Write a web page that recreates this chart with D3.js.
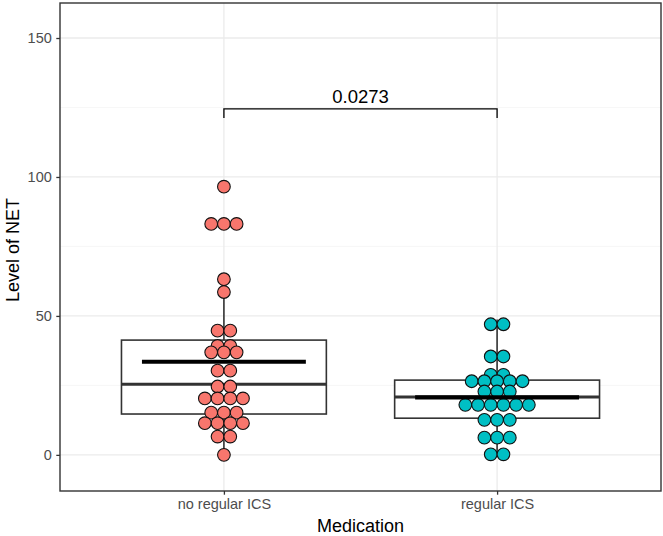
<!DOCTYPE html>
<html>
<head>
<meta charset="utf-8">
<script src="https://cdn.jsdelivr.net/npm/d3@7"></script>
<style>
  html, body { margin: 0; padding: 0; background: #fff; }
  svg { display: block; font-family: "Liberation Sans", Arial, sans-serif; }
</style>
</head>
<body>
<svg id="chart" width="663" height="536"></svg>
<script>
// ---- data ----
const categories = ["no regular ICS", "regular ICS"];
const colors = ["#F8766D", "#00BFC4"];
// individual observations (dot-plot bin centres), one entry per dot
const noRegularICS = [96.5, 83.1, 83.1, 83.1, 63.2, 58.6, 44.7, 44.7, 39.2, 39.2,
  36.9, 36.9, 36.9, 30.3, 30.3, 24.6, 24.6, 20.3, 20.3, 20.3, 20.3,
  15.2, 15.2, 15.2, 11.4, 11.4, 11.4, 11.4, 6.6, 6.6, 0];
const regularICS = [47.0, 47.0, 35.4, 35.4, 28.8, 28.8, 26.5, 26.5, 26.5, 26.5, 26.5,
  22.8, 22.8, 22.8, 18.0, 18.0, 18.0, 18.0, 18.0, 18.0, 12.6, 12.6, 12.6,
  6.2, 6.2, 6.2, 0.2, 0.2];
const groups = [noRegularICS, regularICS];
// box-plot statistics per category
const whiskerLow = [0, 0];
const q1 = [14.7, 13.2];
const median = [25.4, 20.8];
const q3 = [41.3, 26.9];
const whiskerHigh = [63.2, 48.7];
const means = [33.5, 20.7];
// significance annotation
const pLabel = "0.0273";
const pBracketY = 124.5;
const pTipY = 121.2;
const yTicks = [0, 50, 100, 150];
const yMinorTicks = [25, 75, 125];

// ---- layout ----
const svg = d3.select("#chart");
const panel = { left: 60, right: 661, top: 3, bottom: 491 };

const y = d3.scaleLinear().domain([-13, 162.6]).range([panel.bottom, panel.top]);
const x = d3.scaleBand().domain(categories)
  .range([panel.left, panel.right]).paddingOuter(0.6 / 1).paddingInner(0);
// custom centre positions matching ggplot discrete expansion (0.6 units)
const unit = (panel.right - panel.left) / (categories.length - 1 + 1.2);
const xc = d => panel.left + (0.6 + categories.indexOf(d)) * unit;

// panel background + grid
const g = svg.append("g");
g.append("rect").attr("x", panel.left).attr("y", panel.top)
  .attr("width", panel.right - panel.left).attr("height", panel.bottom - panel.top)
  .attr("fill", "#fff");

g.selectAll(".minor").data(yMinorTicks).enter().append("line")
  .attr("x1", panel.left).attr("x2", panel.right)
  .attr("y1", d => y(d)).attr("y2", d => y(d))
  .attr("stroke", "#F2F2F2").attr("stroke-width", 0.7);
g.selectAll(".major").data(yTicks).enter().append("line")
  .attr("x1", panel.left).attr("x2", panel.right)
  .attr("y1", d => y(d)).attr("y2", d => y(d))
  .attr("stroke", "#EBEBEB").attr("stroke-width", 1.3);
g.selectAll(".vmajor").data(categories).enter().append("line")
  .attr("x1", d => xc(d)).attr("x2", d => xc(d))
  .attr("y1", panel.top).attr("y2", panel.bottom)
  .attr("stroke", "#EBEBEB").attr("stroke-width", 1.3);

// box plots
const boxW = 0.75 * unit;
categories.forEach((c, i) => {
  const cx = xc(c);
  const bg = svg.append("g").attr("stroke", "#333333").attr("fill", "none");
  bg.append("line").attr("x1", cx).attr("x2", cx)
    .attr("y1", y(q3[i])).attr("y2", y(whiskerHigh[i])).attr("stroke-width", 1.6);
  bg.append("line").attr("x1", cx).attr("x2", cx)
    .attr("y1", y(q1[i])).attr("y2", y(whiskerLow[i])).attr("stroke-width", 1.6);
  bg.append("rect").attr("x", cx - boxW / 2).attr("y", y(q3[i]))
    .attr("width", boxW).attr("height", y(q1[i]) - y(q3[i]))
    .attr("fill", "#fff").attr("stroke-width", 1.6);
  bg.append("line").attr("x1", cx - boxW / 2).attr("x2", cx + boxW / 2)
    .attr("y1", y(median[i])).attr("y2", y(median[i])).attr("stroke-width", 3);
});

// dot plots (centre-stacked)
const dotR = 6.35;
groups.forEach((vals, i) => {
  const cx = xc(categories[i]);
  const stacks = d3.groups(vals, v => v);
  const pts = [];
  stacks.forEach(([v, arr]) => {
    const n = arr.length;
    arr.forEach((_, k) => pts.push({ v, off: (k - (n - 1) / 2) * dotR * 2 }));
  });
  svg.append("g").selectAll("circle").data(pts).enter().append("circle")
    .attr("cx", d => cx + d.off).attr("cy", d => y(d.v)).attr("r", dotR)
    .attr("fill", colors[i]).attr("stroke", "#111").attr("stroke-width", 1.1);
});

// mean lines
const meanW = 0.6 * unit;
svg.append("g").selectAll("line").data(means).enter().append("line")
  .attr("x1", (d, i) => xc(categories[i]) - meanW / 2)
  .attr("x2", (d, i) => xc(categories[i]) + meanW / 2)
  .attr("y1", d => y(d)).attr("y2", d => y(d))
  .attr("stroke", "#000").attr("stroke-width", 4.2);

// significance bracket
const x0 = xc(categories[0]), x1 = xc(categories[1]);
svg.append("path")
  .attr("d", `M${x0},${y(pTipY)}V${y(pBracketY)}H${x1}V${y(pTipY)}`)
  .attr("fill", "none").attr("stroke", "#000").attr("stroke-width", 1.3);
svg.append("text").attr("x", (x0 + x1) / 2).attr("y", y(pBracketY) - 5.5)
  .attr("text-anchor", "middle").attr("font-size", 18.5).attr("fill", "#000")
  .text(pLabel);

// panel border
svg.append("rect").attr("x", panel.left).attr("y", panel.top)
  .attr("width", panel.right - panel.left).attr("height", panel.bottom - panel.top)
  .attr("fill", "none").attr("stroke", "#333333").attr("stroke-width", 1.4);

// y axis
const yAxis = d3.axisLeft(y).tickValues(yTicks).tickSize(3.7).tickPadding(4.5);
const ya = svg.append("g").attr("transform", `translate(${panel.left},0)`).call(yAxis);
ya.select(".domain").remove();
ya.selectAll(".tick line").attr("stroke", "#333333").attr("stroke-width", 1.3);
ya.selectAll(".tick text").attr("fill", "#4D4D4D").attr("font-size", 14.5)
  .attr("font-family", "Liberation Sans, Arial, sans-serif");

// x axis
const xScalePoint = d3.scaleOrdinal().domain(categories).range(categories.map(xc));
const xAxis = d3.axisBottom(xScalePoint).tickSize(3.7).tickPadding(4);
const xa = svg.append("g").attr("transform", `translate(0,${panel.bottom})`).call(xAxis);
xa.select(".domain").remove();
xa.selectAll(".tick line").attr("stroke", "#333333").attr("stroke-width", 1.3);
xa.selectAll(".tick text").attr("fill", "#4D4D4D").attr("font-size", 14.5)
  .attr("font-family", "Liberation Sans, Arial, sans-serif");

// axis titles
svg.append("text").attr("x", (panel.left + panel.right) / 2).attr("y", 532)
  .attr("text-anchor", "middle").attr("font-size", 18).attr("fill", "#000")
  .text("Medication");
svg.append("text").attr("transform", `translate(19,250) rotate(-90)`)
  .attr("text-anchor", "middle").attr("font-size", 18).attr("fill", "#000")
  .text("Level of NET");
</script>
</body>
</html>
